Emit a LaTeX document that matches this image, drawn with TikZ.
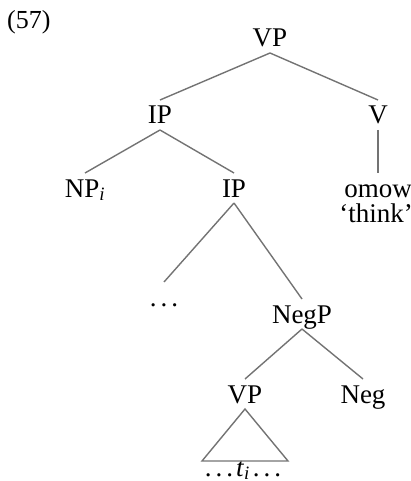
\documentclass[tikz,border=0pt]{standalone}
\usepackage{fontspec}
\setmainfont{Liberation Serif}
\newcommand{\spdots}{.\kern4pt.\kern4pt.}
\begin{document}
\begin{tikzpicture}[x=1pt,y=-1pt,
  lab/.style={anchor=base,inner sep=0pt,outer xsep=0pt,outer ysep=6pt,
    text height=18pt,text depth=0pt,font=\fontsize{27}{31}\selectfont},
  branch/.style={draw=black!55,line width=1.4pt}]
\useasboundingbox (0,0) rectangle (411,481);
% example number
\node[anchor=base west,inner sep=0pt,font=\fontsize{26}{30}\selectfont] (ex) at (7,29) {(57)};
% tree labels
\node[lab] (vp1) at (270,47) {VP};
\node[lab] (ip1) at (160,124) {IP};
\node[lab] (v) at (378,124) {V};
\node[lab] (np) at (85,197) {NP\textsubscript{\textit{i}}};
\node[lab] (ip2) at (234,197) {IP};
\node[lab] (omow) at (378,197) {omow};
\node[lab,text height=14pt] (gloss) at (376,222) {‘think’};
\node[lab] (dots) at (164,306) {\spdots};
\node[lab] (negp) at (302,323) {NegP};
\node[lab] (vp2) at (245,403) {VP};
\node[lab] (neg) at (363,403) {Neg};
\node[lab,anchor=base] (trace) at (243,476) {\spdots\kern3pt\textit{t}\textsubscript{\textit{i}}\kern3pt\spdots};
% branches
\draw[branch] (vp1.south) -- (ip1.north);
\draw[branch] (vp1.south) -- (v.north);
\draw[branch] (ip1.south) -- (np.north);
\draw[branch] (ip1.south) -- (ip2.north);
\draw[branch] (v.south) -- (omow.north);
\draw[branch] (ip2.south) -- (dots.north);
\draw[branch] (ip2.south) -- (negp.north);
\draw[branch] (negp.south) -- (vp2.north);
\draw[branch] (negp.south) -- (neg.north);
% collapsed VP
\draw[branch,line join=miter] (vp2.south) -- ++(-43,52) -- ++(86,0) -- cycle;
\end{tikzpicture}
\end{document}
